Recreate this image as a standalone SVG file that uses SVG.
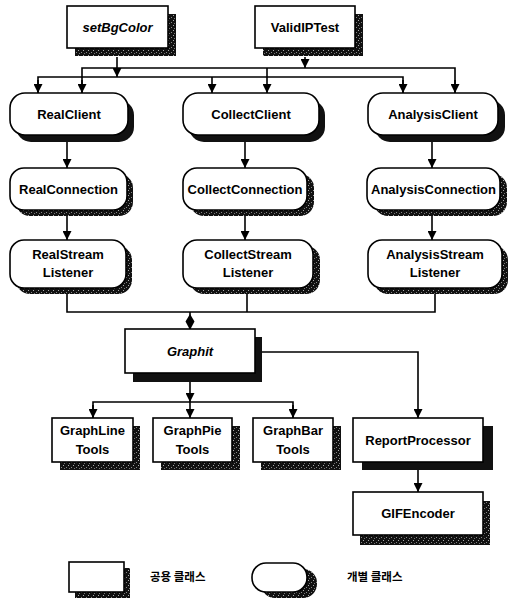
<svg xmlns="http://www.w3.org/2000/svg" width="510" height="600" viewBox="0 0 510 600">
<style>
.box{fill:#fff;stroke:#000;stroke-width:1.6}
.sh{fill:#111}
.st{fill:url(#stip)}
.t{font-family:"Liberation Sans",Arial,sans-serif;font-weight:bold;font-size:13px;fill:#000;text-anchor:middle}
.it{font-style:italic}
.k{font-family:"Noto Sans CJK KR",sans-serif;font-weight:bold;font-size:11.5px;fill:#000}
.c{fill:none;stroke:#000;stroke-width:1.6}
</style>
<defs>
<pattern id="stip" width="5" height="5" patternUnits="userSpaceOnUse">
<rect width="5" height="5" fill="#111"/>
<rect x="1" y="2" width="1" height="1" fill="#888"/>
<rect x="3" y="0" width="1" height="1" fill="#aaa"/>
<rect x="4" y="3" width="1" height="1" fill="#777"/>
</pattern>
<marker id="ah" viewBox="0 0 10 10" refX="10" refY="5" markerWidth="9" markerHeight="9" markerUnits="userSpaceOnUse" orient="auto">
<path d="M0,0 L10,5 L0,10 z" fill="#000"/>
</marker>
</defs>

<g id="connectors">
<line class="c" x1="117" y1="57" x2="117" y2="77" marker-end="url(#ah)"/>
<line class="c" x1="305" y1="57" x2="305" y2="68" marker-end="url(#ah)"/>
<polyline class="c" points="38,93 38,77 403,77 403,93"/>
<line class="c" x1="38" y1="80" x2="38" y2="93" marker-end="url(#ah)"/>
<line class="c" x1="212" y1="77" x2="212" y2="93" marker-end="url(#ah)"/>
<line class="c" x1="403" y1="80" x2="403" y2="93" marker-end="url(#ah)"/>
<polyline class="c" points="82,93 82,68 455,68 455,93"/>
<line class="c" x1="82" y1="80" x2="82" y2="93" marker-end="url(#ah)"/>
<line class="c" x1="267" y1="68" x2="267" y2="93" marker-end="url(#ah)"/>
<line class="c" x1="455" y1="80" x2="455" y2="93" marker-end="url(#ah)"/>
<line class="c" x1="67" y1="142" x2="67" y2="168" marker-end="url(#ah)"/>
<line class="c" x1="245" y1="142" x2="245" y2="168" marker-end="url(#ah)"/>
<line class="c" x1="432" y1="142" x2="432" y2="168" marker-end="url(#ah)"/>
<line class="c" x1="67" y1="216" x2="67" y2="240" marker-end="url(#ah)"/>
<line class="c" x1="245" y1="216" x2="245" y2="240" marker-end="url(#ah)"/>
<line class="c" x1="432" y1="216" x2="432" y2="240" marker-end="url(#ah)"/>
<polyline class="c" points="67,294 67,312 435,312 435,294"/>
<line class="c" x1="247" y1="294" x2="247" y2="312"/>
<line class="c" x1="190" y1="312" x2="190" y2="329"/>
<polygon points="190,314 194.5,321.5 190,330 185.5,321.5" fill="#000"/>
<polyline class="c" points="262,352 418,352 418,418" marker-end="url(#ah)"/>
<line class="c" x1="190" y1="382" x2="190" y2="402" marker-end="url(#ah)"/>
<polyline class="c" points="93,418 93,402 293,402 293,418"/>
<line class="c" x1="93" y1="405" x2="93" y2="418" marker-end="url(#ah)"/>
<line class="c" x1="190" y1="402" x2="190" y2="418" marker-end="url(#ah)"/>
<line class="c" x1="293" y1="405" x2="293" y2="418" marker-end="url(#ah)"/>
<line class="c" x1="418" y1="470" x2="418" y2="492" marker-end="url(#ah)"/>
</g>

<g id="setBgColor">
<rect class="st" x="75" y="14" width="101" height="42"/>
<rect class="box" x="67" y="6" width="101" height="42"/>
<text class="t it" x="117.5" y="32">setBgColor</text>
</g>
<g id="ValidIPTest">
<rect class="st" x="263" y="14" width="100" height="42"/>
<rect class="box" x="255" y="6" width="100" height="42"/>
<text class="t" x="305" y="32">ValidIPTest</text>
</g>

<g id="RealClient">
<rect class="sh" x="16" y="100" width="118" height="42" rx="15"/>
<rect class="box" x="10" y="93" width="118" height="42" rx="15"/>
<text class="t" x="69" y="119">RealClient</text>
</g>
<g id="CollectClient">
<rect class="sh" x="189" y="100" width="136" height="42" rx="15"/>
<rect class="box" x="183" y="93" width="136" height="42" rx="15"/>
<text class="t" x="251" y="119">CollectClient</text>
</g>
<g id="AnalysisClient">
<rect class="sh" x="375" y="100" width="130" height="42" rx="15"/>
<rect class="box" x="368" y="93" width="130" height="42" rx="15"/>
<text class="t" x="433" y="119">AnalysisClient</text>
</g>

<g id="RealConnection">
<rect class="st" x="16" y="174" width="117" height="42" rx="14"/>
<rect class="box" x="10" y="168" width="117" height="42" rx="14"/>
<text class="t" x="68.5" y="194">RealConnection</text>
</g>
<g id="CollectConnection">
<rect class="st" x="190" y="174" width="124" height="42" rx="14"/>
<rect class="box" x="183" y="168" width="124" height="42" rx="14"/>
<text class="t" x="245" y="194">CollectConnection</text>
</g>
<g id="AnalysisConnection">
<rect class="st" x="374" y="174" width="133" height="42" rx="14"/>
<rect class="box" x="367" y="168" width="133" height="42" rx="14"/>
<text class="t" x="433.5" y="194">AnalysisConnection</text>
</g>

<g id="RealStreamListener">
<rect class="st" x="16" y="246" width="116" height="48" rx="14"/>
<rect class="box" x="10" y="240" width="116" height="48" rx="14"/>
<text class="t" x="68" y="259">RealStream</text>
<text class="t" x="68" y="277">Listener</text>
</g>
<g id="CollectStreamListener">
<rect class="st" x="190" y="246" width="130" height="48" rx="14"/>
<rect class="box" x="183" y="240" width="130" height="48" rx="14"/>
<text class="t" x="248" y="259">CollectStream</text>
<text class="t" x="248" y="277">Listener</text>
</g>
<g id="AnalysisStreamListener">
<rect class="st" x="374" y="246" width="134" height="48" rx="14"/>
<rect class="box" x="368" y="240" width="134" height="48" rx="14"/>
<text class="t" x="435" y="259">AnalysisStream</text>
<text class="t" x="435" y="277">Listener</text>
</g>

<g id="Graphit">
<rect class="sh" x="133" y="337" width="129" height="45"/>
<rect class="box" x="125" y="329" width="130" height="44"/>
<text class="t it" x="190" y="356">Graphit</text>
</g>

<g id="GraphLineTools">
<rect class="st" x="60" y="426" width="80" height="44"/>
<rect class="box" x="52" y="418" width="81" height="44"/>
<text class="t" x="92.5" y="435">GraphLine</text>
<text class="t" x="92.5" y="454">Tools</text>
</g>
<g id="GraphPieTools">
<rect class="st" x="161" y="426" width="79" height="44"/>
<rect class="box" x="153" y="418" width="79" height="44"/>
<text class="t" x="192.5" y="435">GraphPie</text>
<text class="t" x="192.5" y="454">Tools</text>
</g>
<g id="GraphBarTools">
<rect class="st" x="261" y="426" width="80" height="44"/>
<rect class="box" x="253" y="418" width="80" height="44"/>
<text class="t" x="293" y="435">GraphBar</text>
<text class="t" x="293" y="454">Tools</text>
</g>
<g id="ReportProcessor">
<rect class="sh" x="362" y="426" width="131" height="44"/>
<rect class="box" x="353" y="418" width="130" height="44"/>
<text class="t" x="418" y="445">ReportProcessor</text>
</g>
<g id="GIFEncoder">
<rect class="st" x="360" y="501" width="130" height="44"/>
<rect class="box" x="353" y="492" width="130" height="43"/>
<text class="t" x="418" y="518">GIFEncoder</text>
</g>

<g id="legend">
<rect class="st" x="75" y="568" width="55" height="30"/>
<rect class="box" x="69" y="562" width="55" height="30"/>
<text class="k" x="150" y="581">공용 클래스</text>
<rect class="st" x="261" y="569" width="56" height="29" rx="14"/>
<rect class="box" x="252" y="563" width="55" height="29" rx="14"/>
<text class="k" x="347" y="581">개별 클래스</text>
</g>
</svg>
